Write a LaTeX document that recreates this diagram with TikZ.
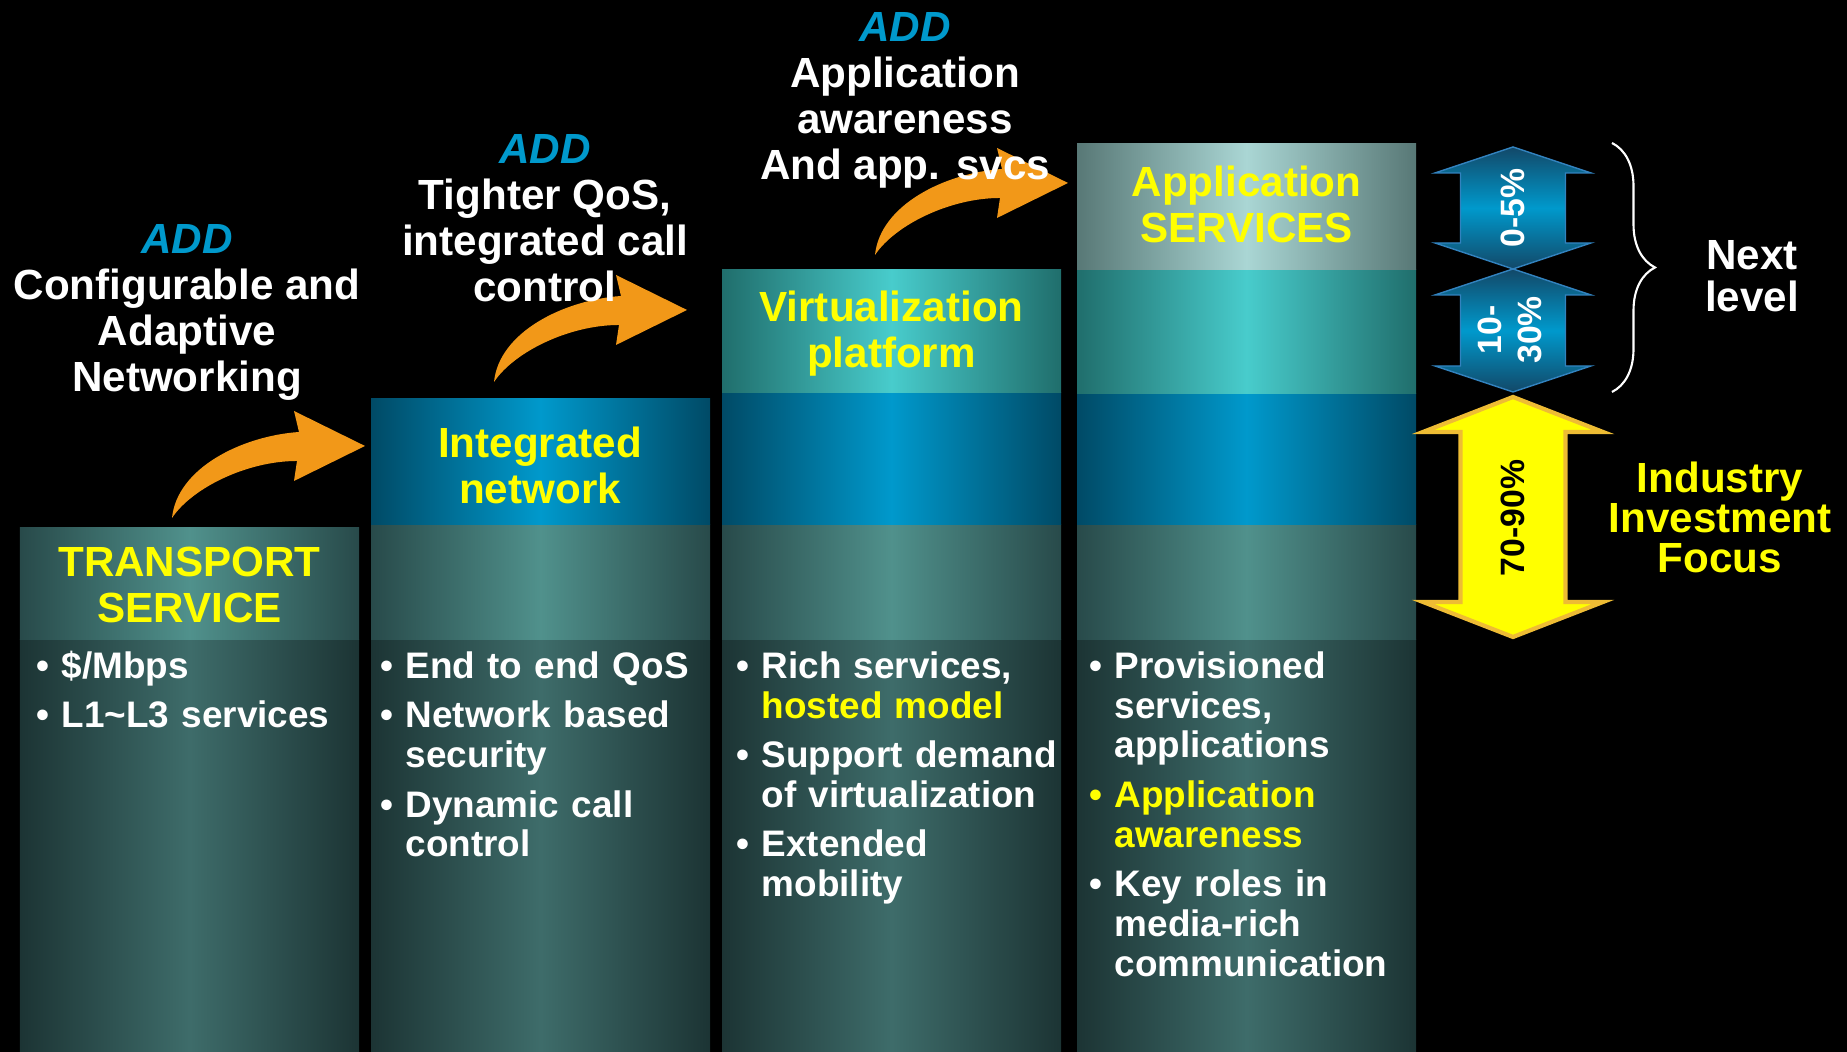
\documentclass[tikz,border=0pt]{standalone}
\usepackage{fontspec}
\setmainfont{Liberation Sans}
\usetikzlibrary{decorations.pathreplacing}

\definecolor{addblue}{RGB}{0,153,204}
\definecolor{ylw}{RGB}{255,255,0}
\definecolor{arroworange}{RGB}{242,152,24}
\definecolor{goldedge}{RGB}{238,188,52}
\definecolor{bodyedge}{RGB}{28,52,52}
\definecolor{bodymid}{RGB}{62,108,106}
\definecolor{tealedge}{RGB}{40,74,74}
\definecolor{tealmid}{RGB}{80,145,140}
\definecolor{blueedge}{RGB}{0,74,102}
\definecolor{bluemid}{RGB}{0,153,204}
\definecolor{cyanedge}{RGB}{32,110,108}
\definecolor{cyanmid}{RGB}{72,204,204}
\definecolor{grayedge}{RGB}{88,120,118}
\definecolor{graymid}{RGB}{170,214,212}
\definecolor{arrowdark}{RGB}{18,72,104}
\definecolor{arrowline}{RGB}{50,130,190}

\newcommand{\hd}{\fontsize{12}{13.1}\selectfont\bfseries}
\newcommand{\bt}{\fontsize{10.5}{11.3}\selectfont\bfseries}
\newcommand{\pct}{\fontsize{9.6}{11.5}\selectfont\bfseries}
% one bullet item, hanging indent
\newcommand{\bul}[2][white]{\par\hangindent=0.25cm\hangafter=1\noindent{\color{#1}\makebox[0.25cm][l]{\textbullet}\strut#2}\par\vspace{2.8pt}}
% curved orange arrow, #1 = tail point
\newcommand{\curvarrow}[1]{%
  \fill[arroworange,shift={#1}] (0,0) .. controls (0.2,0.3) and (0.75,0.57) .. (1.25,0.57)
     -- (1.22,0.37) -- (1.93,0.72) -- (1.22,1.07) -- (1.27,0.86)
     .. controls (0.7,0.82) and (0.05,0.5) .. (0,0) -- cycle;}
% vertical double arrow: #1 style, #2 x, #3 top, #4 bottom, #5 head length, #6 head half width
\newcommand{\dbarrow}[6]{%
  \draw[#1] (#2,#3) -- (#2+#6,#3-#5) -- (#2+0.525,#3-#5) -- (#2+0.525,#4+#5)
     -- (#2+#6,#4+#5) -- (#2,#4) -- (#2-#6,#4+#5) -- (#2-0.525,#4+#5)
     -- (#2-0.525,#3-#5) -- (#2-#6,#3-#5) -- cycle;}

\tikzset{
  bodyband/.style={left color=bodyedge,right color=bodyedge,middle color=bodymid},
  tealband/.style={left color=tealedge,right color=tealedge,middle color=tealmid},
  blueband/.style={left color=blueedge,right color=blueedge,middle color=bluemid},
  cyanband/.style={left color=cyanedge,right color=cyanedge,middle color=cyanmid},
  grayband/.style={left color=grayedge,right color=grayedge,middle color=graymid},
  toplabel/.style={white,font=\hd,align=center,anchor=south,text depth=0pt,inner sep=0pt},
  colhead/.style={ylw,font=\hd,align=center,anchor=south,text depth=0pt,inner sep=0pt},
  bullets/.style={white,font=\bt,text width=3.3cm,inner sep=0pt,anchor=north west},
  pctlabel/.style={font=\pct,align=center,rotate=90,inner sep=0pt},
  bluedbl/.style={top color=arrowdark,bottom color=arrowdark,middle color=bluemid,draw=arrowline,line width=0.4pt},
  yellowdbl/.style={fill=ylw,draw=goldedge,line width=1.2pt}
}

\begin{document}
\begin{tikzpicture}
\useasboundingbox (0,0) rectangle (18.47,10.52);
\fill[black] (0,0) rectangle (18.47,10.52);

% column 1
\shade[bodyband] (0.20,0) rectangle (3.59,4.12);
\shade[tealband] (0.20,4.12) rectangle (3.59,5.24);
% column 2
\shade[bodyband] (3.71,0) rectangle (7.10,4.12);
\shade[tealband] (3.71,4.12) rectangle (7.10,5.27);
\shade[blueband] (3.71,5.27) rectangle (7.10,6.53);
% column 3
\shade[bodyband] (7.22,0) rectangle (10.61,4.12);
\shade[tealband] (7.22,4.12) rectangle (10.61,5.27);
\shade[blueband] (7.22,5.27) rectangle (10.61,6.59);
\shade[cyanband] (7.22,6.59) rectangle (10.61,7.82);
% column 4
\shade[bodyband] (10.77,0) rectangle (14.16,4.12);
\shade[tealband] (10.77,4.12) rectangle (14.16,5.27);
\shade[blueband] (10.77,5.27) rectangle (14.16,6.58);
\shade[cyanband] (10.77,6.58) rectangle (14.16,7.82);
\shade[grayband] (10.77,7.82) rectangle (14.16,9.08);

% orange steps
\curvarrow{(1.72,5.34)}
\curvarrow{(4.94,6.70)}
\curvarrow{(8.75,7.97)}

% share arrows
\dbarrow{bluedbl}{15.13}{9.05}{7.83}{0.26}{0.78}
\dbarrow{bluedbl}{15.13}{7.83}{6.60}{0.26}{0.78}
\dbarrow{yellowdbl}{15.13}{6.55}{4.15}{0.35}{0.90}
\draw[white,line width=0.6pt,decorate,decoration={brace,amplitude=0.43cm}] (16.12,9.09) -- (16.12,6.60);

% labels above the steps
\node[toplabel] (addone) at (1.87,6.60) {{\color{addblue}\itshape ADD}\\Configurable and\\Adaptive\\Networking};
\node[toplabel] (addtwo) at (5.45,7.50) {{\color{addblue}\itshape ADD}\\Tighter QoS,\\integrated call\\control};
\node[toplabel] (addthree) at (9.05,8.72) {{\color{addblue}\itshape ADD}\\Application\\awareness\\And app. svcs};

% column heads
\node[colhead] (tsvc) at (1.895,4.29) {TRANSPORT\\SERVICE};
\node[colhead] (inet) at (5.40,5.48) {Integrated\\network};
\node[colhead] (vplat) at (8.915,6.84) {Virtualization\\platform};
\node[colhead] (appsvc) at (12.465,8.09) {Application\\SERVICES};

% column bullets
\node[bullets] (lstone) at (0.36,4.14) {\bul{\$/Mbps}\bul{L1\textasciitilde L3 services}};
\node[bullets] (lsttwo) at (3.80,4.14) {\bul{End to end QoS}\bul{Network based\newline security}\bul{Dynamic call\newline control}};
\node[bullets] (lstthree) at (7.36,4.14) {\bul{Rich services,\newline {\color{ylw}hosted model}}\bul{Support demand\newline of virtualization}\bul{Extended\newline mobility}};
\node[bullets] (lstfour) at (10.89,4.14) {\bul{Provisioned\newline services,\newline applications}\bul[ylw]{Application\newline awareness}\bul{Key roles in\newline media-rich\newline communication}};

% percentages
\node[pctlabel,white] (pcthi) at (15.13,8.44) {0-5\%};
\node[pctlabel,white] (pctmid) at (15.10,7.22) {10-\\30\%};
\node[pctlabel,black] (pctlo) at (15.13,5.34) {70-90\%};

% right hand notes
\node[white,font=\fontsize{12}{12}\selectfont\bfseries,align=center,anchor=south,text depth=0pt,inner sep=0pt] (nextlvl) at (17.52,7.40) {Next\\level};
\node[ylw,font=\fontsize{12}{11.4}\selectfont\bfseries,align=center,anchor=south,text depth=0pt,inner sep=0pt] (invfocus) at (17.20,4.79) {Industry\\Investment\\Focus};
\end{tikzpicture}
\end{document}
